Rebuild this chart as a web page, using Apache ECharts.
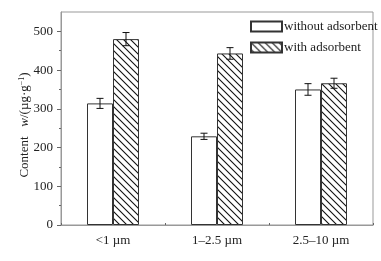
<!DOCTYPE html>
<html>
<head>
<meta charset="utf-8">
<script src="https://cdn.jsdelivr.net/npm/echarts@6/dist/echarts.min.js"></script>
<style>html,body{margin:0;padding:0;background:#fff;}#c{width:381px;height:261px;}</style>
</head>
<body>
<div id="c"></div>
<script>
var categories = ['<1 \u00b5m', '1\u20132.5 \u00b5m', '2.5\u201310 \u00b5m'];
var seriesNames = ['without adsorbent', 'with adsorbent'];
var withoutValues = [314, 229, 350];
var withoutErrors = [13, 8, 15];
var withValues = [480, 443, 366];
var withErrors = [17, 15, 13];
var majorTicks = [0, 100, 200, 300, 400, 500];
var minorTicks = [50, 150, 250, 350, 450];

var FONT = '"Liberation Serif", "Times New Roman", serif';
var BAR_W = 26;

function makeHatch() {
  var s = 7;
  var cv = document.createElement('canvas');
  cv.width = s; cv.height = s;
  var ctx = cv.getContext('2d');
  ctx.fillStyle = '#fff';
  ctx.fillRect(0, 0, s, s);
  ctx.strokeStyle = '#111';
  ctx.lineWidth = 1.1;
  ctx.beginPath();
  ctx.moveTo(-1, -1); ctx.lineTo(s + 1, s + 1);
  ctx.moveTo(-1, s - 1); ctx.lineTo(1, s + 1);
  ctx.moveTo(s - 1, -1); ctx.lineTo(s + 1, 1);
  ctx.stroke();
  return cv;
}
var hatch = { image: makeHatch(), repeat: 'repeat' };

function errSeries(values, errors, sign) {
  var data = values.map(function (v, i) { return [i, v, errors[i]]; });
  return {
    type: 'custom',
    z: 10,
    silent: true,
    data: data,
    renderItem: function (params, api) {
      var idx = api.value(0), v = api.value(1), e = api.value(2);
      var c = api.coord([idx, v]);
      var x = c[0] + sign * BAR_W / 2;
      var top = api.coord([idx, v + e])[1];
      var bot = api.coord([idx, v - e])[1];
      var cw = 3.5;
      var st = { stroke: '#111', lineWidth: 1 };
      return {
        type: 'group',
        children: [
          { type: 'line', shape: { x1: x, y1: top, x2: x, y2: bot }, style: st },
          { type: 'line', shape: { x1: x - cw, y1: top, x2: x + cw, y2: top }, style: st },
          { type: 'line', shape: { x1: x - cw, y1: bot, x2: x + cw, y2: bot }, style: st }
        ]
      };
    }
  };
}

var chart = echarts.init(document.getElementById('c'));
chart.setOption({
  animation: false,
  backgroundColor: '#fff',
  textStyle: { fontFamily: FONT },
  grid: { left: 61, right: 8, top: 12, bottom: 36, show: true, borderColor: '#999', borderWidth: 1, backgroundColor: 'transparent' },
  legend: {
    orient: 'vertical',
    left: 245, top: 15,
    icon: 'rect',
    itemWidth: 31, itemHeight: 10,
    itemGap: 8,
    data: seriesNames,
    textStyle: { fontFamily: FONT, fontSize: 13, color: '#222', padding: [0, 0, 0, -3] }
  },
  xAxis: {
    type: 'category',
    data: categories,
    axisLine: { lineStyle: { color: '#999', width: 1 } },
    axisTick: { show: true, inside: true, length: 2, lineStyle: { color: '#666' } },
    axisLabel: { fontFamily: FONT, fontSize: 13, color: '#222', margin: 9 },
    splitLine: { show: false }
  },
  yAxis: [{
    type: 'value',
    min: 0, max: 550,
    axisLine: { show: true, lineStyle: { color: '#999', width: 1 } },
    axisTick: { show: true, length: 4, customValues: majorTicks, lineStyle: { color: '#666' } },
    axisLabel: { fontFamily: FONT, fontSize: 13, color: '#222', margin: 8, customValues: majorTicks },
    splitLine: { show: false }
  }, {
    type: 'value',
    min: 0, max: 550,
    position: 'left',
    axisLine: { show: false },
    axisTick: { show: true, length: 2, customValues: minorTicks, lineStyle: { color: '#666' } },
    axisLabel: { show: false },
    splitLine: { show: false }
  }],
  graphic: [{
    type: 'text',
    x: 25, y: 125,
    rotation: Math.PI / 2,
    style: {
      text: '{n|Content}   {i|w}{n|/(\u00b5g\u00b7g}{s|\u22121}{n|)}',
      align: 'center',
      verticalAlign: 'middle',
      rich: {
        n: { fontFamily: FONT, fontSize: 13, fill: '#222' },
        i: { fontFamily: FONT, fontSize: 13, fontStyle: 'italic', fill: '#222' },
        s: { fontFamily: FONT, fontSize: 8, fill: '#222', padding: [0, 0, 7, 0] }
      },
      fontFamily: FONT, fontSize: 13, fill: '#222'
    }
  }],
  series: [{
    name: seriesNames[0],
    type: 'bar',
    barWidth: BAR_W,
    barGap: '0%',
    data: withoutValues,
    itemStyle: { color: '#fff', borderColor: '#333', borderWidth: 1 }
  }, {
    name: seriesNames[1],
    type: 'bar',
    barWidth: BAR_W,
    barGap: '0%',
    data: withValues,
    itemStyle: { color: hatch, borderColor: '#333', borderWidth: 1 }
  },
  errSeries(withoutValues, withoutErrors, -1),
  errSeries(withValues, withErrors, 1)
  ]
});
</script>
</body>
</html>
